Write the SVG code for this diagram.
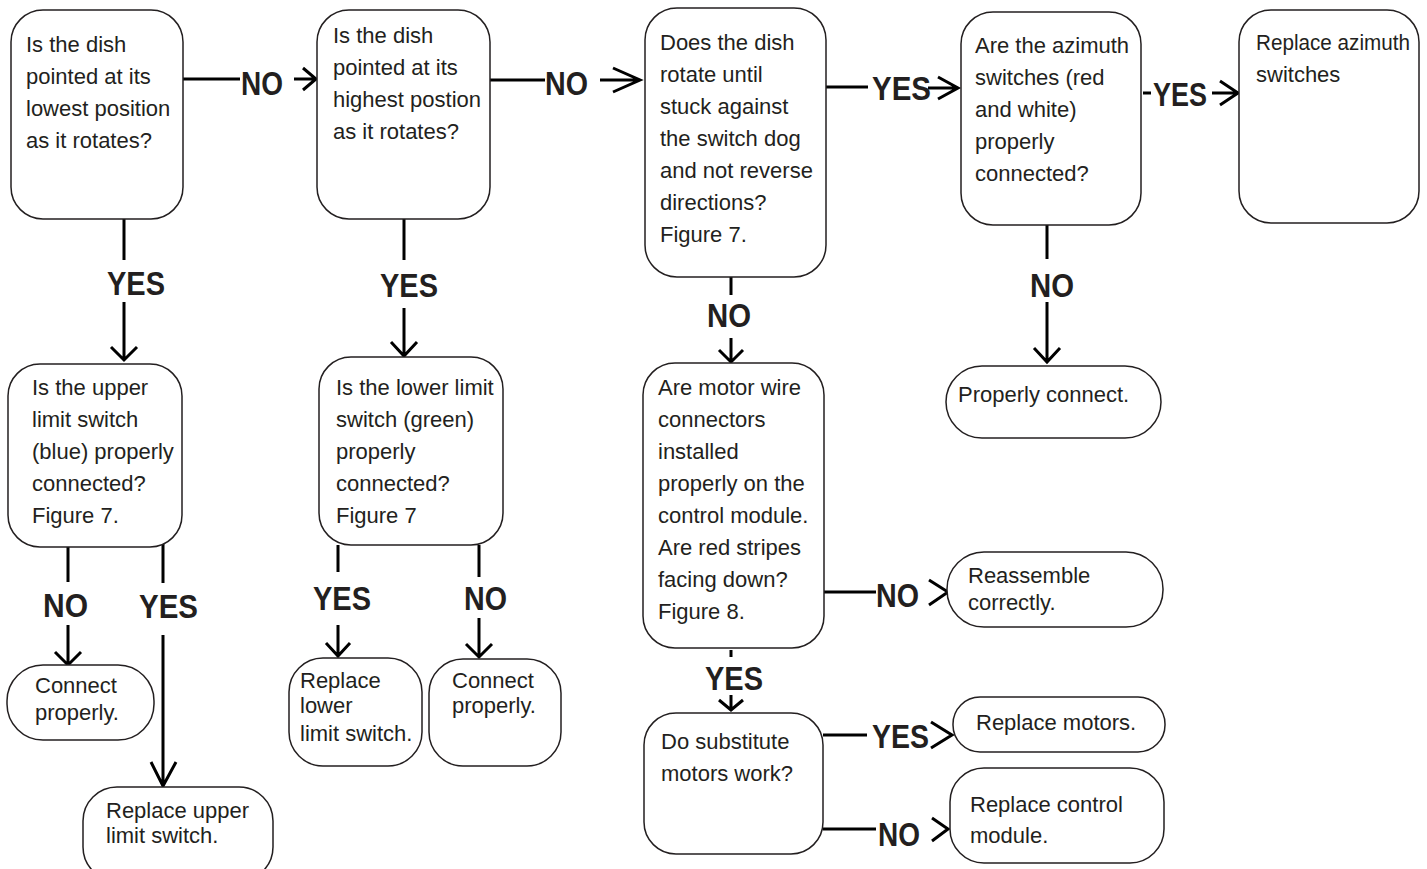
<svg xmlns="http://www.w3.org/2000/svg" width="1427" height="869" viewBox="0 0 1427 869">
<style>
.box{fill:#fff;stroke:#231f20;stroke-width:1.5}
.t{font-family:"Liberation Sans",Arial,sans-serif;font-size:22px;fill:#231f20}
.lbl{font-family:"Liberation Sans",Arial,sans-serif;font-size:34px;font-weight:bold;fill:#231f20}
.c{fill:none;stroke:#000;stroke-width:3;stroke-linecap:butt;stroke-linejoin:miter}
</style>
<rect width="1427" height="869" fill="#fff"/>
<g id="connectors">
<path class="c" d="M183,79H240M294,79H316M303,68L316,79L303,90"/>
<path class="c" d="M490,80H545M600,80H640M613,68L640,80L613,92"/>
<path class="c" d="M826,87H868M928,88H958M938,77L958,88L938,99"/>
<path class="c" d="M1143,93H1151M1212,93H1238M1220,81L1238,93L1220,105"/>
<path class="c" d="M124,218V260M124,302V360M111,347L124,360L137,347"/>
<path class="c" d="M404,219V260M404,308V356M391,342L404,356L417,342"/>
<path class="c" d="M731,277V295M731,338V362M719,350L731,362L743,350"/>
<path class="c" d="M1047,225V259M1047,302V362M1034,348L1047,362L1060,348"/>
<path class="c" d="M68,547V582M68,625V665M55,652L68,665L81,652"/>
<path class="c" d="M163,537V583M163,635V786M151,762L163,786L176,762"/>
<path class="c" d="M338,545V572M338,625V656M326,643L338,656L350,643"/>
<path class="c" d="M479,545V577M479,618V657M466,644L479,657L492,644"/>
<path class="c" d="M823,592H876M929,580L948,592L929,605"/>
<path class="c" d="M731,650V657M731,695V710M719,700L731,710L743,700"/>
<path class="c" d="M823,735H867M931,722L952,735L931,748"/>
<path class="c" d="M823,829H876M932,818L948,829L932,841"/>
<text class="lbl" x="241" y="95" textLength="42" lengthAdjust="spacingAndGlyphs">NO</text>
<text class="lbl" x="545" y="95" textLength="43" lengthAdjust="spacingAndGlyphs">NO</text>
<text class="lbl" x="872" y="100" textLength="59" lengthAdjust="spacingAndGlyphs">YES</text>
<text class="lbl" x="1153" y="106" textLength="54" lengthAdjust="spacingAndGlyphs">YES</text>
<text class="lbl" x="107" y="295" textLength="58" lengthAdjust="spacingAndGlyphs">YES</text>
<text class="lbl" x="380" y="297" textLength="58" lengthAdjust="spacingAndGlyphs">YES</text>
<text class="lbl" x="707" y="327" textLength="44" lengthAdjust="spacingAndGlyphs">NO</text>
<text class="lbl" x="1030" y="297" textLength="44" lengthAdjust="spacingAndGlyphs">NO</text>
<text class="lbl" x="43" y="617" textLength="45" lengthAdjust="spacingAndGlyphs">NO</text>
<text class="lbl" x="139" y="618" textLength="59" lengthAdjust="spacingAndGlyphs">YES</text>
<text class="lbl" x="313" y="610" textLength="58" lengthAdjust="spacingAndGlyphs">YES</text>
<text class="lbl" x="464" y="610" textLength="43" lengthAdjust="spacingAndGlyphs">NO</text>
<text class="lbl" x="876" y="607" textLength="43" lengthAdjust="spacingAndGlyphs">NO</text>
<text class="lbl" x="705" y="690" textLength="58" lengthAdjust="spacingAndGlyphs">YES</text>
<text class="lbl" x="872" y="748" textLength="57" lengthAdjust="spacingAndGlyphs">YES</text>
<text class="lbl" x="878" y="846" textLength="42" lengthAdjust="spacingAndGlyphs">NO</text>
</g>
<g id="nodeA"><rect class="box" x="11" y="10" width="172" height="209" rx="32"/>
<text class="t"><tspan x="26" y="52">Is the dish</tspan><tspan x="26" y="84">pointed at its</tspan><tspan x="26" y="116">lowest position</tspan><tspan x="26" y="148">as it rotates?</tspan></text></g>
<g id="nodeB"><rect class="box" x="317" y="10" width="173" height="209" rx="32"/>
<text class="t"><tspan x="333" y="43">Is the dish</tspan><tspan x="333" y="75">pointed at its</tspan><tspan x="333" y="107">highest postion</tspan><tspan x="333" y="139">as it rotates?</tspan></text></g>
<g id="nodeC"><rect class="box" x="645" y="8" width="181" height="269" rx="32"/>
<text class="t"><tspan x="660" y="50">Does the dish</tspan><tspan x="660" y="82">rotate until</tspan><tspan x="660" y="114">stuck against</tspan><tspan x="660" y="146">the switch dog</tspan><tspan x="660" y="178">and not reverse</tspan><tspan x="660" y="210">directions?</tspan><tspan x="660" y="242">Figure 7.</tspan></text></g>
<g id="nodeD"><rect class="box" x="961" y="12" width="180" height="213" rx="32"/>
<text class="t"><tspan x="975" y="53">Are the azimuth</tspan><tspan x="975" y="85">switches (red</tspan><tspan x="975" y="117">and white)</tspan><tspan x="975" y="149">properly</tspan><tspan x="975" y="181">connected?</tspan></text></g>
<g id="nodeE"><rect class="box" x="1239" y="10" width="180" height="213" rx="32"/>
<text class="t" x="1256" y="50" textLength="154" lengthAdjust="spacingAndGlyphs">Replace azimuth</text>
<text class="t" x="1256" y="82">switches</text></g>
<g id="nodeF"><rect class="box" x="946" y="366" width="215" height="72" rx="36"/>
<text class="t" x="958" y="402">Properly connect.</text></g>
<g id="nodeG"><rect class="box" x="8" y="364" width="174" height="183" rx="32"/>
<text class="t"><tspan x="32" y="395">Is the upper</tspan><tspan x="32" y="427">limit switch</tspan><tspan x="32" y="459">(blue) properly</tspan><tspan x="32" y="491">connected?</tspan><tspan x="32" y="523">Figure 7.</tspan></text></g>
<g id="nodeH"><rect class="box" x="7" y="665" width="147" height="75" rx="36"/>
<text class="t"><tspan x="35" y="693">Connect</tspan><tspan x="35" y="720">properly.</tspan></text></g>
<g id="nodeI"><rect class="box" x="83" y="787" width="190" height="94" rx="34"/>
<text class="t"><tspan x="106" y="818">Replace upper</tspan><tspan x="106" y="843">limit switch.</tspan></text></g>
<g id="nodeJ"><rect class="box" x="319" y="357" width="184" height="188" rx="32"/>
<text class="t"><tspan x="336" y="395">Is the lower limit</tspan><tspan x="336" y="427">switch (green)</tspan><tspan x="336" y="459">properly</tspan><tspan x="336" y="491">connected?</tspan><tspan x="336" y="523">Figure 7</tspan></text></g>
<g id="nodeK"><rect class="box" x="289" y="658" width="133" height="108" rx="34"/>
<text class="t"><tspan x="300" y="688">Replace</tspan><tspan x="300" y="713">lower</tspan><tspan x="300" y="741">limit switch.</tspan></text></g>
<g id="nodeL"><rect class="box" x="429" y="659" width="132" height="107" rx="34"/>
<text class="t"><tspan x="452" y="688">Connect</tspan><tspan x="452" y="713">properly.</tspan></text></g>
<g id="nodeM"><rect class="box" x="643" y="363" width="181" height="285" rx="32"/>
<text class="t"><tspan x="658" y="395">Are motor wire</tspan><tspan x="658" y="427">connectors</tspan><tspan x="658" y="459">installed</tspan><tspan x="658" y="491">properly on the</tspan><tspan x="658" y="523">control module.</tspan><tspan x="658" y="555">Are red stripes</tspan><tspan x="658" y="587">facing down?</tspan><tspan x="658" y="619">Figure 8.</tspan></text></g>
<g id="nodeN"><rect class="box" x="644" y="713" width="179" height="141" rx="32"/>
<text class="t"><tspan x="661" y="749">Do substitute</tspan><tspan x="661" y="781">motors work?</tspan></text></g>
<g id="nodeO"><rect class="box" x="953" y="697" width="212" height="55" rx="27"/>
<text class="t" x="976" y="730">Replace motors.</text></g>
<g id="nodeP"><rect class="box" x="950" y="768" width="214" height="95" rx="34"/>
<text class="t"><tspan x="970" y="812">Replace control</tspan><tspan x="970" y="843">module.</tspan></text></g>
<g id="nodeQ"><rect class="box" x="947" y="552" width="216" height="75" rx="37"/>
<text class="t"><tspan x="968" y="583">Reassemble</tspan><tspan x="968" y="610">correctly.</tspan></text></g>
</svg>
